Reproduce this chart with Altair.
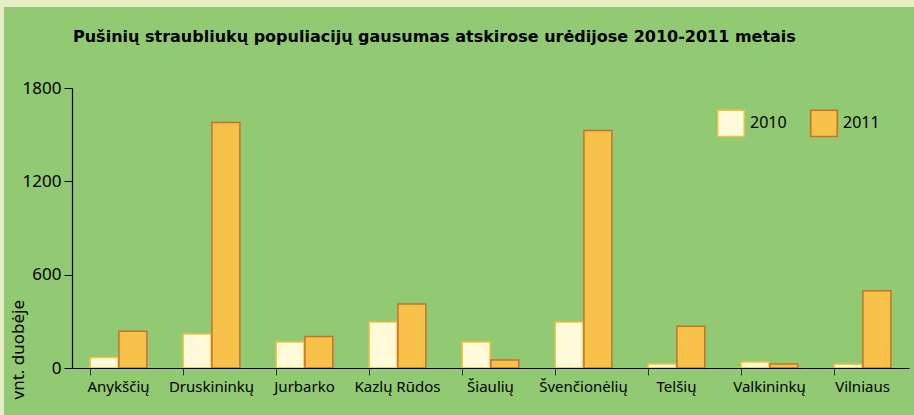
import altair as alt
import pandas as pd

categories = ["Anykščių", "Druskininkų", "Jurbarko", "Kazlų Rūdos", "Šiaulių",
              "Švenčionėlių", "Telšių", "Valkininkų", "Vilniaus"]
values_2010 = [68, 219, 167, 296, 167, 296, 26, 39, 24]
values_2011 = [236, 1579, 203, 411, 51, 1527, 268, 26, 497]
years = ["2010", "2011"]
y_ticks = [0, 600, 1200, 1800]
title_text = ["Pušinių straubliukų populiacijų gausumas atskirose urėdijose 2010-2011 metais"]

rows = []
for c, a, b in zip(categories, values_2010, values_2011):
    rows.append({"urėdija": c, "metai": years[0], "vnt": a})
    rows.append({"urėdija": c, "metai": years[1], "vnt": b})
df = pd.DataFrame(rows)
tdf = pd.DataFrame({"t": title_text})

FONT = "Noto Sans"
GREEN = "#92c973"
fills = ["#fffad9", "#f7c24a"]
strokes = ["#f5c040", "#c6712b"]

bg = alt.Chart(tdf).mark_rect(color=GREEN).encode(
    x=alt.value(-68), x2=alt.value(842), y=alt.value(-81), y2=alt.value(327)
)

title = alt.Chart(tdf).mark_text(
    font="DejaVu Sans", fontSize=16, fontWeight="bold", color="black",
    align="left", baseline="middle"
).encode(x=alt.value(1), y=alt.value(-51), text="t:N")

bars = alt.Chart(df).mark_bar(strokeWidth=1.5).encode(
    x=alt.X("urėdija:N", sort=categories,
            scale=alt.Scale(paddingInner=0.39, paddingOuter=0.195),
            axis=alt.Axis(title=None, labelAngle=0, labelFont=FONT, labelFontSize=15,
                          labelColor="black", labelPadding=11, tickSize=7,
                          tickColor="#333333", bandPosition=0, domainColor="black",
                          domainWidth=1.2, labelBaseline="middle", zindex=1)),
    xOffset=alt.XOffset("metai:N", sort=years, scale=alt.Scale(paddingInner=0.03)),
    y=alt.Y("vnt:Q", scale=alt.Scale(domain=[0, 1800], nice=False),
            axis=alt.Axis(values=y_ticks, format="d", grid=False, labelFont=FONT,
                          labelFontSize=17, labelColor="black", tickSize=8,
                          tickColor="black", domainColor="black", domainWidth=1.2,
                          labelPadding=3,
                          title="vnt. duobėje", titleFont=FONT, titleFontSize=17,
                          titleFontWeight="normal", titleColor="black",
                          titleAngle=270, titleX=-54, titleY=311,
                          titleAlign="left", titleBaseline="middle", zindex=1)),
    fill=alt.Fill("metai:N", sort=years,
                  scale=alt.Scale(domain=years, range=fills),
                  legend=alt.Legend(title=None, orient="none", legendX=645, legendY=21,
                                    direction="horizontal", symbolType="square",
                                    symbolSize=700, symbolStrokeWidth=1.5,
                                    labelFont=FONT, labelFontSize=16, labelColor="black",
                                    labelOffset=5, columnPadding=20)),
    stroke=alt.Stroke("metai:N", sort=years,
                      scale=alt.Scale(domain=years, range=strokes), legend=None),
)

chart = alt.layer(bg, title, bars).properties(
    width=837, height=280,
    background="#e5edc4",
    padding={"left": 72, "top": 88, "right": 5, "bottom": 47},
    autosize=alt.AutoSizeParams(type="none"),
).configure_view(strokeWidth=0)

chart.save("out.html", embed_options={"renderer": "svg", "actions": False})
